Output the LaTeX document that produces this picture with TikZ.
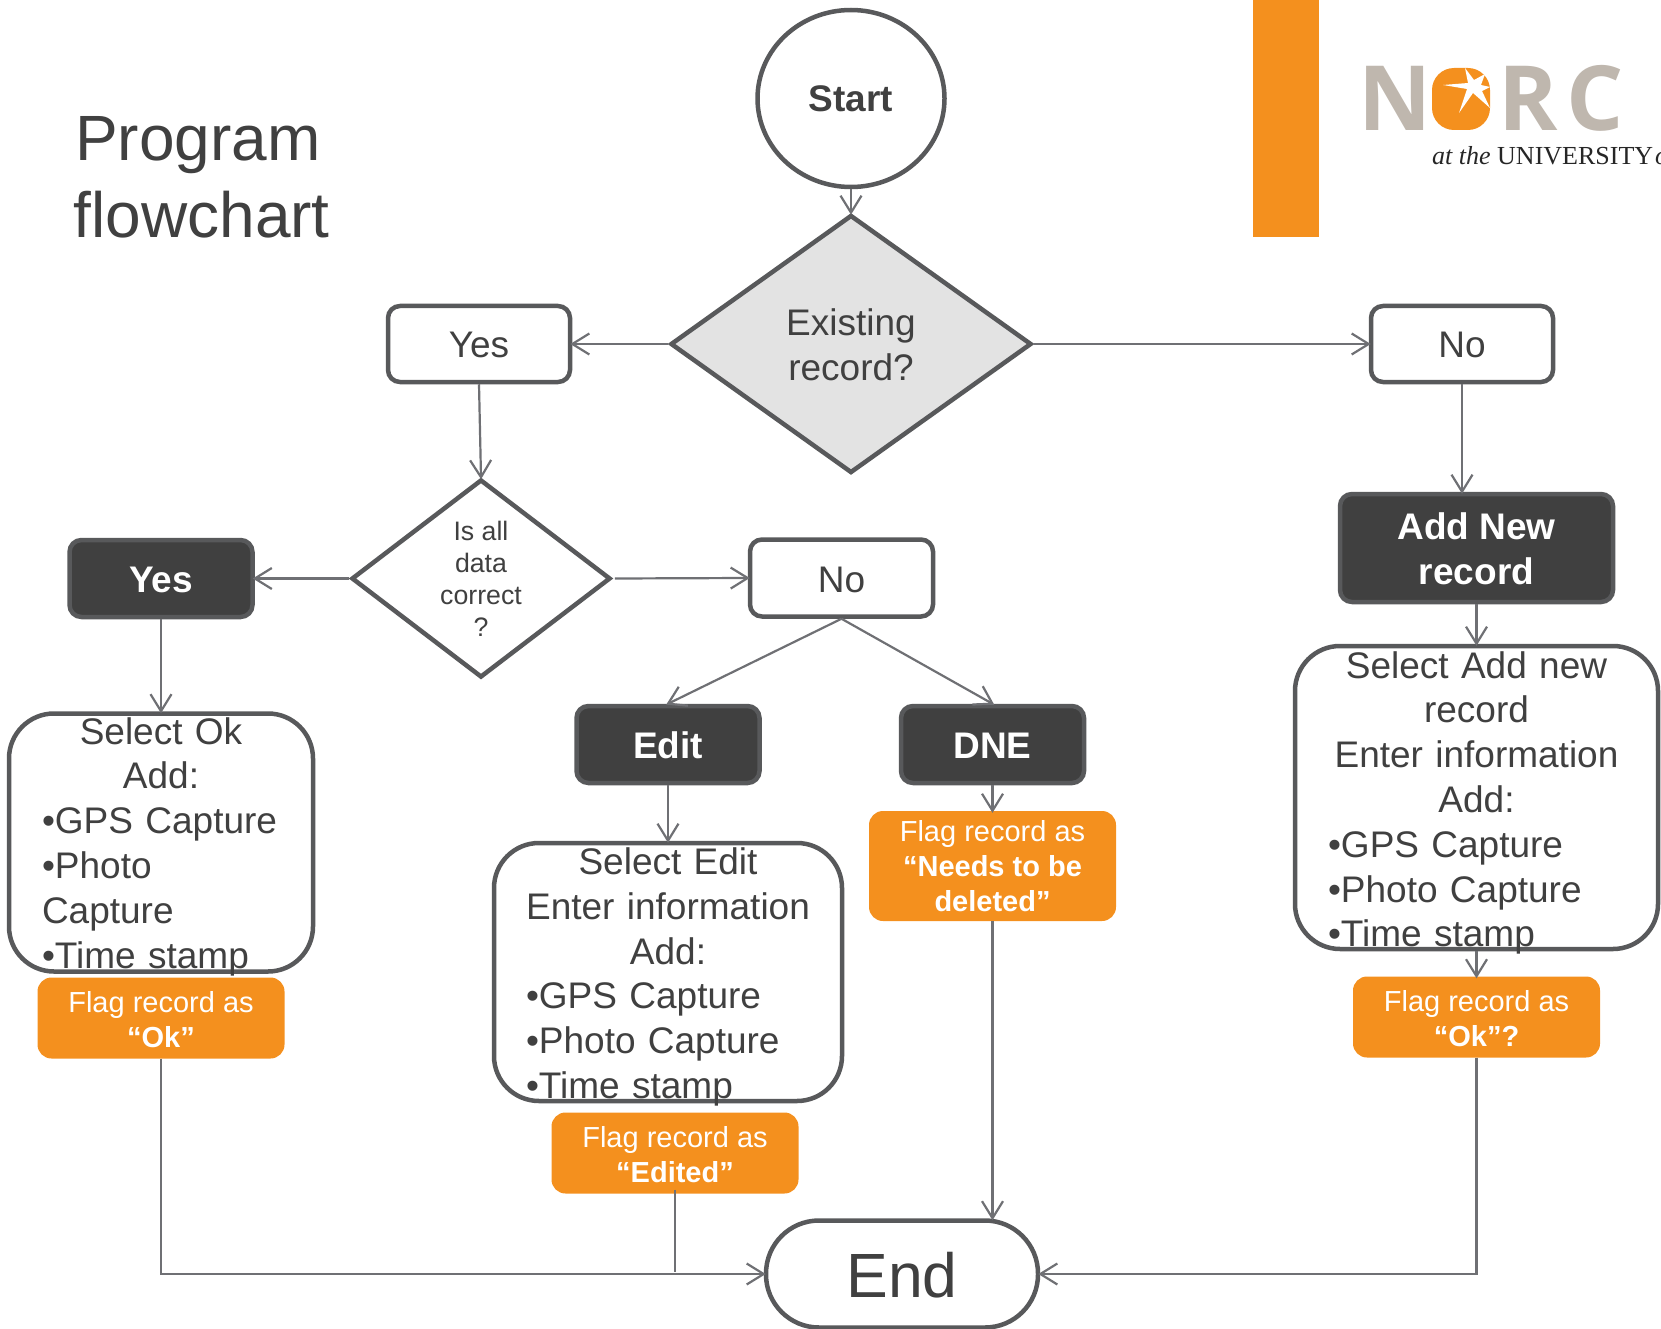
\documentclass[tikz,border=0pt]{standalone}
\usepackage{fontspec}
\setmainfont{Liberation Sans}
\newfontfamily\logoserif{Liberation Serif}
\newfontfamily\logosans{Open Sans}
\usetikzlibrary{shapes.geometric,arrows.meta}
\definecolor{txt}{HTML}{404040}
\definecolor{edge}{HTML}{58595B}
\definecolor{conn}{HTML}{6F7074}
\definecolor{org}{HTML}{F4901E}
\definecolor{logog}{HTML}{BFB7AE}
\newcommand\fs[2]{\fontsize{#1}{#2}\selectfont}
\newcommand\ctr[1]{\makebox[\hsize][c]{#1}}
\newcommand\dn[2][2pt]{\raisebox{-#1}[\height][\depth]{#2}}
\tikzset{
  every node/.style={text=txt,inner sep=0pt},
  base text/.style={font=\fs{37}{44.8}},
  whitebox/.style={draw=edge,line width=4.5pt,fill=white,rounded corners=12pt,base text,align=center,minimum width=182pt,minimum height=76pt},
  darkbox/.style={draw=edge,line width=4.5pt,fill=txt,rounded corners=12pt,text=white,font=\fs{37}{44.8}\bfseries,align=center,minimum width=183pt,minimum height=77pt},
  bigbox/.style={draw=edge,line width=4.5pt,fill=white,rounded corners=45pt},
  boxtext/.style={base text,align=left},
  flagbox/.style={fill=org,rounded corners=14pt,text=white,font=\fs{29}{35},align=center,minimum width=247pt},
  conn line/.style={draw=conn,line width=2.2pt},
  conn arrow/.style={conn line,shorten >=-2pt,-{Straight Barb[length=17pt,width=21pt,line width=2.2pt]}},
  decis/.style={diamond,draw=edge,line width=4.5pt,aspect=1.35,align=center},
}
\begin{document}
\begin{tikzpicture}[x=1pt,y=-1pt]
\useasboundingbox (0,0) rectangle (1661,1329);
% title
\node[anchor=base west,font=\fs{64}{76}] (title1) at (75,161) {Program};
\node[anchor=base west,font=\fs{64}{76}] (title2) at (73.5,238) {flowchart};
% orange bar + logo
\fill[org] (1253,0) rectangle (1319,237);
\node[anchor=base west,font=\logosans\bfseries\fs{90}{90},text=logog] (logoN) at (1358,131) {N};
\fill[org,rounded corners=22pt] (1432,68) rectangle (1490,130);
\fill[white] (1443,85) -- (1468,83) -- (1465,68) -- (1474,80) -- (1485,74) -- (1481,85) -- (1490,87) -- (1482,91) -- (1490,108) -- (1473,93) -- (1459,113) -- (1467,89) -- cycle;
\node[anchor=base west,font=\logosans\bfseries\fs{90}{90},text=logog] (logoRC) at (1498,131) {R\kern9pt C};
\node[anchor=base west,font=\logoserif\fs{26}{26},text=black!85] (logoT) at (1432,165) {\textit{at the} UNIVERSITY\kern2pt\textit{of}};
% nodes
\node[draw=edge,line width=4.5pt,ellipse,fill=white,minimum width=187pt,minimum height=177pt,font=\fs{37}{44.8}\bfseries] (startE) at (851,98.5) {Start};
\node[decis,fill=black!11,minimum width=361pt,minimum height=258pt,base text] (dia) at (851,344) {\dn[1pt]{Existing}\\\dn[1pt]{record?}};
\node[whitebox] (yes) at (479,344) {\dn[1pt]{Yes}};
\node[whitebox] (no) at (1462,344) {\dn[1pt]{No}};
\node[decis,fill=white,minimum width=259pt,minimum height=198pt,font=\fs{26.7}{32}] (dia2) at (481,578.5) {\dn[0.5pt]{Is all}\\\dn[0.5pt]{data}\\\dn[0.5pt]{correct}\\\dn[0.5pt]{?}};
\node[darkbox] (yesD) at (161,578.5) {\dn[1pt]{Yes}};
\node[whitebox,minimum width=183pt,minimum height=77pt] (no2) at (841.5,578) {\dn{No}};
\node[darkbox,minimum width=273pt,minimum height=108pt] (add) at (1476.5,548) {\dn[1pt]{Add New}\\\dn[1pt]{record}};
\node[darkbox] (edit) at (668,744.5) {\dn[1pt]{Edit}};
\node[darkbox] (dne) at (992.5,744.5) {\dn[1pt]{DNE}};
\node[bigbox,minimum width=304pt,minimum height=258pt] (okBox) at (161,842.5) {};
\node[boxtext,text width=238pt] (okText) at (161,846.5) {\ctr{Select Ok}\\\ctr{Add:}\\•GPS Capture\\•Photo\\Capture\\•Time stamp};
\node[bigbox,minimum width=348pt,minimum height=258pt] (editBox) at (668,972) {};
\node[boxtext,text width=284pt] (editText) at (668,977) {\ctr{Select Edit}\\\ctr{Enter information}\\\ctr{Add:}\\•GPS Capture\\•Photo Capture\\•Time stamp};
\node[bigbox,minimum width=363pt,minimum height=303pt] (addBox) at (1476.5,797.5) {};
\node[boxtext,text width=297pt] (addText) at (1476.5,803) {\ctr{Select Add new}\\\ctr{record}\\\ctr{Enter information}\\\ctr{Add:}\\•GPS Capture\\•Photo Capture\\•Time stamp};
\node[flagbox,minimum height=81pt] (flagOk) at (161,1018) {\dn{Flag record as}\\\dn{\textbf{“Ok”}}};
\node[flagbox,minimum height=81pt] (flagEd) at (675,1153) {\dn{Flag record as}\\\dn{\textbf{“Edited”}}};
\node[flagbox,minimum height=110pt] (flagDne) at (992.5,866) {\dn[0.5pt]{Flag record as}\\\dn[0.5pt]{\textbf{“Needs to be}}\\\dn[0.5pt]{\textbf{deleted”}}};
\node[flagbox,minimum height=81pt] (flagQ) at (1476.5,1017) {\dn{Flag record as}\\\dn{\textbf{“Ok”?}}};
\node[draw=edge,line width=4.5pt,fill=white,rounded corners=53pt,minimum width=272pt,minimum height=107pt,font=\fs{62.5}{70}] (endN) at (902,1274) {\dn[1pt]{End}};
% connectors
\draw[conn arrow] (startE.south) -- (dia.north);
\draw[conn arrow] (dia.west) -- (yes.east);
\draw[conn arrow] (dia.east) -- (no.west);
\draw[conn arrow] (yes.south) -- (dia2.north);
\draw[conn arrow] (no.south) -- (no.south |- add.north);
\draw[conn arrow] (dia2.west) -- (yesD.east);
\draw[conn arrow] ([xshift=2pt]dia2.east) -- (no2.west);
\draw[conn arrow] (yesD.south) -- (okBox.north);
\draw[conn arrow] (no2.south) -- (edit.north);
\draw[conn arrow] (no2.south) -- (dne.north);
\draw[conn arrow] (edit.south) -- (editBox.north);
\draw[conn arrow] (dne.south) -- (flagDne.north);
\draw[conn arrow] (add.south) -- (addBox.north);
\draw[conn arrow] (addBox.south) -- (flagQ.north);
\draw[conn arrow] (flagDne.south) -- (flagDne.south |- endN.north);
\draw[conn arrow] (flagOk.south) |- (endN.west);
\draw[conn arrow] (flagQ.south) |- (endN.east);
\draw[conn line] ([yshift=4pt]flagEd.south) -- ([yshift=2pt]flagEd.south |- endN.west);
\end{tikzpicture}
\end{document}
